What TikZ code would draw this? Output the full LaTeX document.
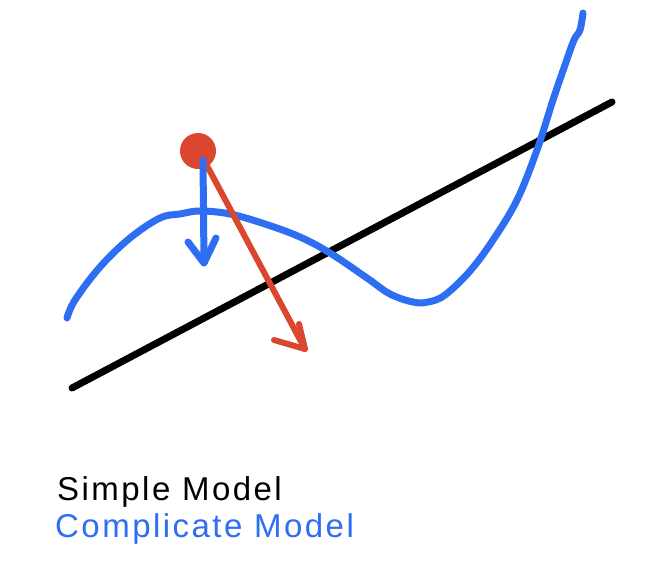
\documentclass[tikz,border=0pt]{standalone}
\usepackage{fontspec}
\setmainfont{Liberation Sans}
\newfontfamily\labelfont[LetterSpace=7.5]{Liberation Sans}
\definecolor{cblue}{RGB}{46,110,242}
\definecolor{cred}{RGB}{218,70,46}
\begin{document}
\begin{tikzpicture}[x=1pt,y=-1pt,
  stroke/.style={line width=7pt,line cap=round,line join=round},
  lbl/.style={anchor=base west,inner sep=0pt,font=\labelfont\fontsize{33}{39}\selectfont}]
\useasboundingbox (0,0) rectangle (670,576);
% black simple model line
\coordinate (s1) at (72,388);
\coordinate (s2) at (612,102);
\draw[stroke,black] (s1) -- (s2);
% blue complicated model curve
\draw[stroke,cblue] plot[smooth,tension=0.6] coordinates {
 (67,318) (75,300) (100,267) (130,238) (160,218) (180,214)
 (200,211) (230,214) (265,224) (300,237) (330,253) (367,278) (390,294)
 (413,302) (428,302) (445,295) (470,271) (493,240) (517,200)
 (537,150) (553,100) (565,65) (574,40) (580,30) (583,13)};
% red point
\node[circle,fill=cred,minimum size=36pt,inner sep=0pt] (dot) at (198,151) {};
% red arrow
\coordinate (rs) at (204,160);
\coordinate (rt) at (305,349);
\coordinate (rl) at (274,340);
\coordinate (rr) at (299,324);
\draw[stroke,cred,line width=6pt] (rs) -- (rt);
\draw[stroke,cred,line width=6pt] (rl) -- (rt) -- (rr);
% blue arrow
\coordinate (bs) at (203,160);
\coordinate (bt) at (204,263);
\coordinate (bl) at (188,242);
\coordinate (br) at (216,238);
\draw[stroke,cblue] (bs) -- (bt);
\draw[stroke,cblue] (bl) -- (bt) -- (br);
% labels
\node[lbl,text=black] (simple) at (57,500) {Simple Model};
\node[lbl,text=cblue] (complex) at (55,537) {Complicate Model};
\end{tikzpicture}
\end{document}
